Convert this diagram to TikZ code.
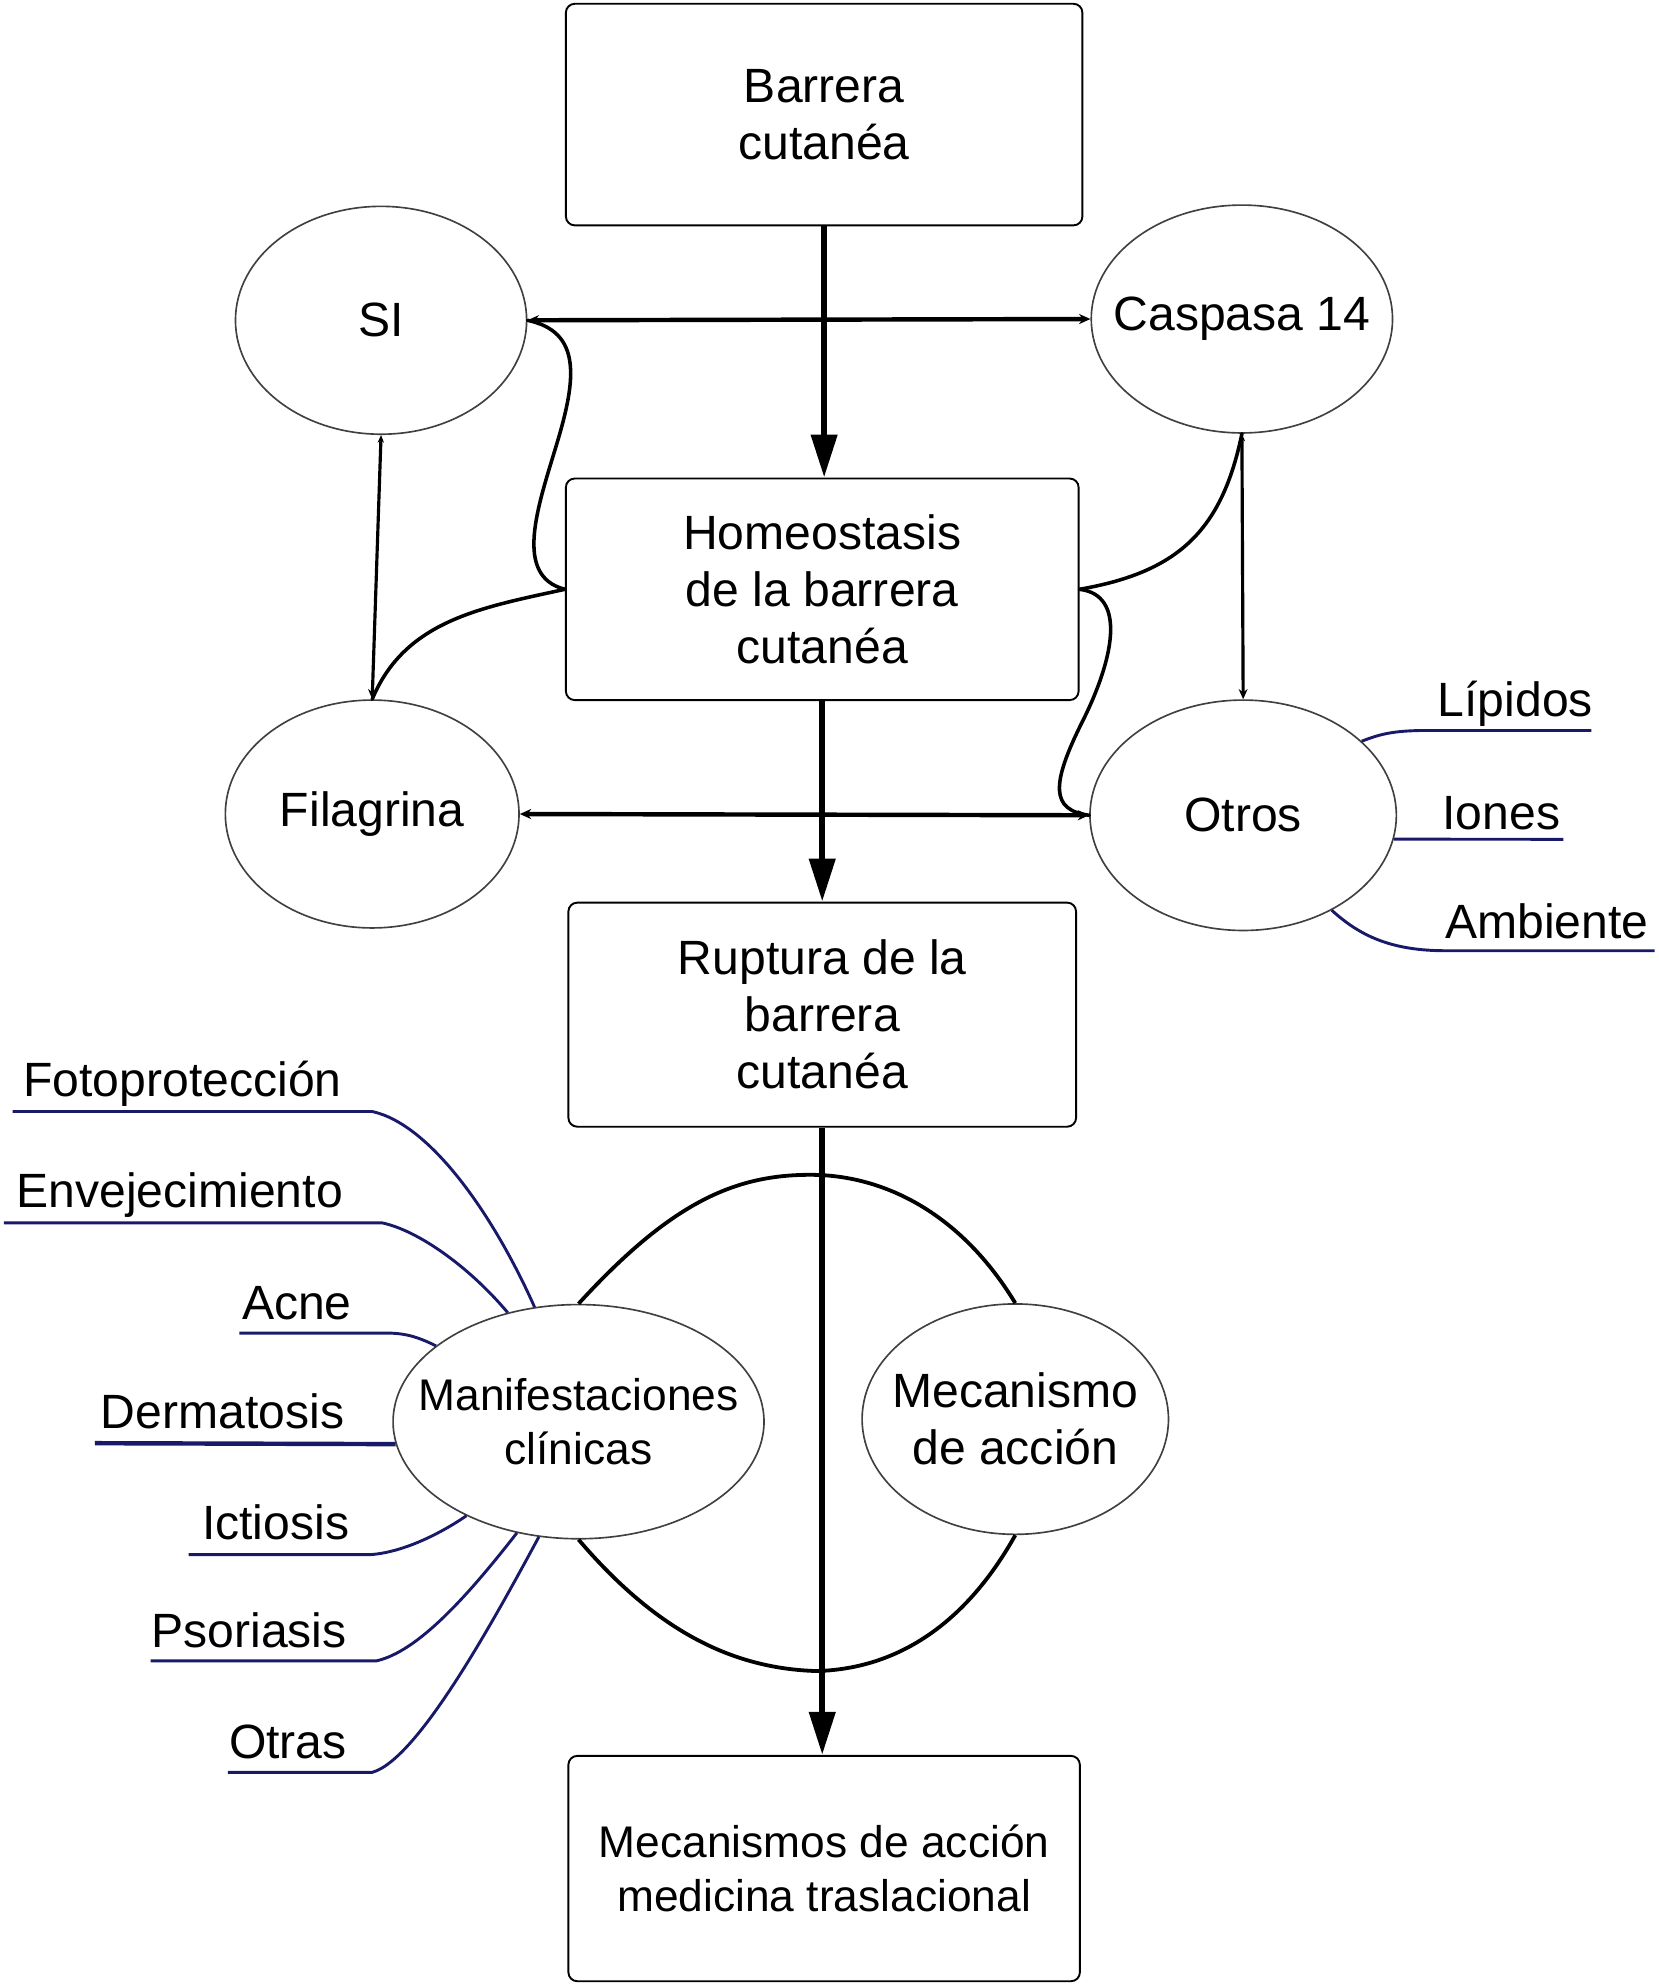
\documentclass[tikz,border=0pt]{standalone}
\usepackage{fontspec}
\setmainfont{Liberation Sans}
\usetikzlibrary{arrows.meta,shapes.geometric}
\definecolor{navy}{RGB}{25,25,105}
\newcommand{\zw}[1]{\makebox[0pt]{#1}}
\begin{document}
\begin{tikzpicture}[x=1bp,y=-1bp,
  txt/.style={font=\fontsize{38bp}{45bp}\selectfont, align=center},
  boxn/.style={txt, draw, line width=1.5bp, rounded corners=7bp, inner sep=0pt},
  ell/.style={txt, ellipse, draw=black!75, line width=1.3bp, inner sep=0pt},
  bigarrow/.style={line width=5bp, -{Triangle[length=34bp,width=20bp]}},
  hlink/.style={line width=3.5bp, {Stealth[length=9bp,width=8bp]}-{Stealth[length=9bp,width=8bp]}},
  vlink/.style={line width=2.5bp, {Stealth[length=6bp,width=5bp]}-{Stealth[length=8bp,width=7bp]}},
  curv/.style={line width=2.8bp, line cap=round},
  lens/.style={line width=3bp},
  lbl/.style={font=\fontsize{38bp}{45bp}\selectfont, inner sep=0pt},
  nv/.style={draw=navy, line width=2.3bp},
]
\useasboundingbox (0,0) rectangle (1310,1568);

% boxes
\node[boxn, minimum width=408bp, minimum height=175bp] (b1) at (651,90.5) {Barrera\\cutanéa};
\node[boxn, minimum width=405bp, minimum height=175bp] (b2) at (649.5,465.5) {Homeostasis\\de la barrera\\cutanéa};
\node[boxn, minimum width=401bp, minimum height=177bp] (b3) at (649.5,801.5) {Ruptura de la\\barrera\\cutanéa};
\node[boxn, minimum width=404bp, minimum height=178bp, font=\fontsize{35bp}{43bp}\selectfont] (b4) at (651,1476) {Mecanismos de acción\\medicina traslacional};

% ellipses
\node[ell, minimum width=230bp, minimum height=180bp] (si) at (301,253) {\zw{SI}};
\node[ell, minimum width=238bp, minimum height=180bp] (casp) at (981,252) {\zw{Caspasa 14}};
\node[ell, minimum width=232bp, minimum height=180bp] (fil) at (294,643) {\zw{Filagrina}};
\node[ell, minimum width=242bp, minimum height=182bp] (otros) at (982,644) {\zw{Otros}};
\node[ell, minimum width=293bp, minimum height=185bp, font=\fontsize{35bp}{43bp}\selectfont] (man) at (457,1123) {\zw{Manifestaciones}\\\zw{clínicas}};
\node[ell, minimum width=242bp, minimum height=182bp] (mec) at (802,1121) {\zw{Mecanismo}\\\zw{de acción}};

% lens curves
\draw[lens] (man.north) .. controls (530,950) and (580,928) .. (640,928) .. controls (700,928) and (760,960) .. (mec.north);
\draw[lens] (man.south) .. controls (520,1290) and (580,1318) .. (645,1320) .. controls (720,1318) and (770,1270) .. (mec.south);

% main arrows
\draw[bigarrow] (b1.south) -- (b1.south |- b2.north);
\draw[bigarrow] (b2.south) -- (b2.south |- b3.north);
\draw[bigarrow] (b3.south) -- (b3.south |- b4.north);

% links
\draw[hlink] (si.east) -- (casp.west);
\draw[hlink] (fil.east) -- (otros.west);
\draw[vlink] (si.south) -- (fil.north);
\draw[vlink] (casp.south) -- (otros.north);

% curves
\draw[curv] (si.east) .. controls (460,262) and (455,300) .. (440,350) .. controls (425,400) and (405,455) .. (b2.west);
\draw[curv] (b2.west) .. controls (380,480) and (320,490) .. (fil.north);
\draw[curv] (casp.south) .. controls (965,420) and (930,452) .. (b2.east);
\draw[curv] (b2.east) .. controls (890,470) and (880,520) .. (855,570) .. controls (830,620) and (830,640) .. (otros.west);

% right labels
\node[lbl, anchor=base] (llip) at (1197,566) {Lípidos};
\node[lbl, anchor=base] (lion) at (1186,655) {Iones};
\node[lbl, anchor=base] (lamb) at (1222,741) {Ambiente};
\coordinate (ulip) at (1257,577);
\coordinate (uion) at (1235,663);
\coordinate (uamb) at (1307,751);
\draw[nv] (otros.32) .. controls (1090,580) and (1100,577) .. (1128,577) -- (ulip);
\draw[nv] (otros.-9) -- (uion);
\draw[nv] (otros.-47) .. controls (1075,740) and (1100,751) .. (1142,751) -- (uamb);

% left labels
\node[lbl, anchor=base east] (lfoto) at (270,866) {Fotoprotección};
\node[lbl, anchor=base east] (lenv) at (271,954) {Envejecimiento};
\node[lbl, anchor=base east] (lacne) at (278,1042) {Acne};
\node[lbl, anchor=base east] (lderm) at (272,1128) {Dermatosis};
\node[lbl, anchor=base east] (lict) at (276,1216) {Ictiosis};
\node[lbl, anchor=base east] (lpso) at (274,1301) {Psoriasis};
\node[lbl, anchor=base east] (lotr) at (274,1389) {Otras};
\coordinate (ufoto) at (10,878);
\coordinate (uenv) at (3,966);
\coordinate (uacne) at (189,1053);
\coordinate (uderm) at (75,1140);
\coordinate (uict) at (149,1228);
\coordinate (upso) at (119,1312);
\coordinate (uotr) at (180,1400);
\draw[nv] (ufoto) -- (294,878) .. controls (340,888) and (390,960) .. (man.111);
\draw[nv] (uenv) -- (302,966) .. controls (330,972) and (370,1000) .. (man.123);
\draw[nv] (uacne) -- (305,1053) .. controls (320,1053) and (330,1056) .. (man.152);
\draw[nv, line width=3.5bp] (uderm) -- (man.187);
\draw[nv] (uict) -- (293,1228) .. controls (320,1226) and (350,1210) .. (man.220);
\draw[nv] (upso) -- (297,1312) .. controls (330,1305) and (370,1260) .. (man.241);
\draw[nv] (uotr) -- (294,1400) .. controls (330,1390) and (390,1280) .. (man.251);
\end{tikzpicture}
\end{document}
